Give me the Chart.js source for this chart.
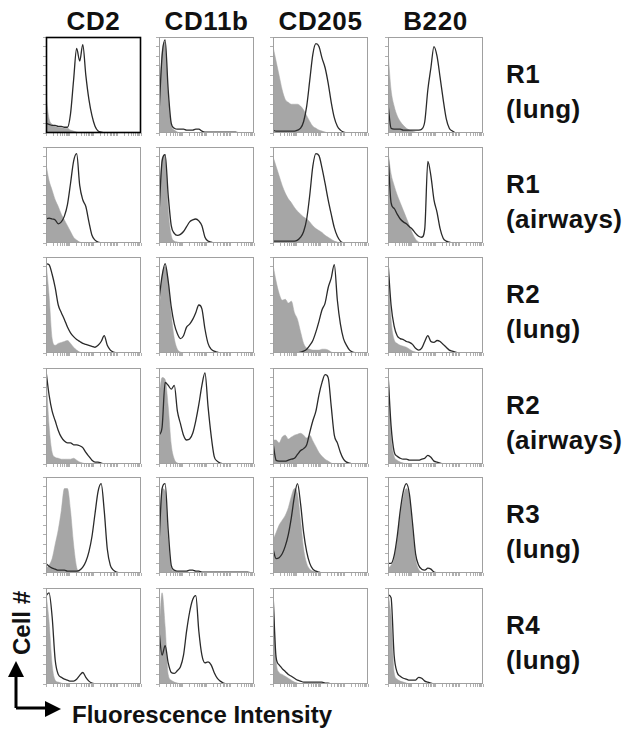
<!DOCTYPE html>
<html>
<head>
<meta charset="utf-8">
<script src="https://cdn.jsdelivr.net/npm/chart.js@4.4.1/dist/chart.umd.min.js"></script>
<style>
  body { margin: 0; background: #fff; width: 625px; height: 730px; position: relative; overflow: hidden;
         font-family: 'Liberation Sans', Arial, sans-serif; font-weight: bold; color: #111; }
  .hdr { position: absolute; top: 8px; width: 130px; text-align: center; font-size: 26px; line-height: 26px; letter-spacing: 0.6px; }
  .lbl { position: absolute; left: 506px; font-size: 26px; line-height: 35px; letter-spacing: 0.4px; white-space: nowrap; }
  .axis-x { position: absolute; left: 72px; top: 703px; font-size: 24px; line-height: 24px; white-space: nowrap; }
  .axis-y { position: absolute; left: -23px; top: 610px; width: 90px; height: 26px; line-height: 26px; font-size: 24px;
            text-align: center; transform: rotate(-90deg); white-space: nowrap; }
  canvas { position: absolute; }
  svg { position: absolute; left: 0; top: 0; }
</style>
</head>
<body>
<svg width="80" height="730">
  <path d="M16 708 V675 M16 708 H47" stroke="#000" stroke-width="3" fill="none"/>
  <polygon points="16,661 8,677 24,677" fill="#000"/>
  <polygon points="61,709 45,701 45,717" fill="#000"/>
</svg>
<div class="axis-y">Cell #</div>
<div class="axis-x">Fluorescence Intensity</div>
<script>
// fluorescence channels (4 log decades, 32 bins)
const channels = [0,1,2,3,4,5,6,7,8,9,10,11,12,13,14,15,16,17,18,19,20,21,22,23,24,25,26,27,28,29,30,31];
const markers = ['CD2', 'CD11b', 'CD205', 'B220'];
const regions = [['R1', '(lung)'], ['R1', '(airways)'], ['R2', '(lung)'], ['R2', '(airways)'], ['R3', '(lung)'], ['R4', '(lung)']];

// R1 lung
const cd2_r1lung_iso = [38,15,9,7,6,6,5,5,3,2,1,0];
const cd2_r1lung_stain = [10,9,8,8,7,7,6,6,20,55,88,75,92,60,35,18,7,2,1,0];
const cd11b_r1lung_iso = [30,85,95,40,8,3,1,0];
const cd11b_r1lung_stain = [20,80,97,45,10,5,4,4,4,3,3,3,4,4,2,1,1,1,1,1,1,1,1,1,1,1,0];
const cd205_r1lung_iso = [90,75,60,45,35,32,30,30,30,28,24,18,12,7,5,3,2,1,0];
const cd205_r1lung_stain = [3,2,2,2,2,2,2,2,3,5,12,28,55,82,93,90,78,68,52,32,16,7,3,1,0];
const b220_r1lung_iso = [85,45,28,18,12,8,5,3,2,1,0];
const b220_r1lung_stain = [30,5,4,4,4,3,3,3,3,3,3,4,12,45,68,90,80,58,35,15,5,2,0];

// R1 airways
const cd2_r1air_iso = [82,65,55,45,38,30,24,18,12,6,3,1,0];
const cd2_r1air_stain = [25,26,25,24,20,22,28,40,62,85,93,60,45,38,22,8,3,1,0];
const cd11b_r1air_iso = [40,88,92,35,8,2,1,0];
const cd11b_r1air_stain = [30,85,92,50,18,10,8,9,12,17,22,24,25,23,18,6,2,1,0];
const cd205_r1air_iso = [90,80,70,60,52,46,42,37,33,30,27,25,22,18,15,13,11,8,6,4,2,1,0];
const cd205_r1air_stain = [2,2,2,2,2,2,2,2,3,6,12,25,50,80,93,91,78,62,45,30,16,7,2,0];
const b220_r1air_iso = [95,72,60,50,42,34,26,18,10,4,1,0];
const b220_r1air_stain = [95,42,36,30,25,22,20,17,14,10,7,6,15,85,70,45,32,15,5,2,1,0];

// R2 lung
const cd2_r2lung_iso = [95,60,15,8,10,11,12,13,10,6,3,1,0];
const cd2_r2lung_stain = [93,92,82,68,50,42,35,27,21,17,14,12,10,9,8,7,6,8,12,18,8,3,1,0];
const cd11b_r2lung_iso = [40,80,90,75,40,15,4,1,0];
const cd11b_r2lung_stain = [55,80,93,75,48,30,20,15,18,27,30,35,42,50,46,25,10,4,2,1,0];
const cd205_r2lung_iso = [92,75,62,55,56,52,54,42,35,22,10,5,4,3,3,3,4,4,3,1,0];
const cd205_r2lung_stain = [0,0,0,0,0,0,0,0,0,1,2,4,8,13,22,33,45,52,68,78,92,55,30,15,8,3,1,0];
const b220_r2lung_iso = [95,35,14,10,8,7,6,4,2,1,0];
const b220_r2lung_stain = [95,50,28,18,15,14,12,11,9,5,3,5,12,18,12,11,13,12,9,6,3,2,1,0];

// R2 airways
const cd2_r2air_iso = [95,40,12,7,6,5,5,5,5,6,4,2,1,0];
const cd2_r2air_stain = [97,72,55,45,35,28,24,22,22,20,20,19,17,12,8,4,2,2,1,0];
const cd11b_r2air_iso = [70,90,88,60,20,5,1,0];
const cd11b_r2air_stain = [30,38,85,82,78,82,55,42,30,25,26,32,45,62,82,95,60,30,8,3,1,0];
const cd205_r2air_iso = [25,25,22,28,30,26,28,30,31,32,30,27,30,24,18,12,8,5,3,1,0];
const cd205_r2air_stain = [22,4,3,3,3,4,5,6,10,14,16,20,33,45,55,72,85,93,90,60,30,22,12,5,2,1,0];
const b220_r2air_iso = [95,30,8,4,2,1,0];
const b220_r2air_stain = [95,40,13,8,6,5,5,4,4,4,4,5,6,9,7,3,2,1,0];

// R3 lung
const cd2_r3lung_iso = [5,8,15,30,45,65,88,88,65,30,6,1,0];
const cd2_r3lung_stain = [10,7,5,4,3,3,3,2,2,2,2,3,6,12,22,38,62,85,93,65,25,8,3,1,0];
const cd11b_r3lung_iso = [40,88,85,35,5,2,1,0];
const cd11b_r3lung_stain = [30,88,93,45,8,3,2,2,2,2,3,3,2,2,1,1,1,1,1,1,1,1,1,1,1,1,1,1,1,1,0];
const cd205_r3lung_iso = [35,42,50,55,60,68,80,88,82,55,25,10,4,2,1,0];
const cd205_r3lung_stain = [25,15,16,20,28,40,58,80,93,72,42,22,10,4,2,1,0];
const b220_r3lung_iso = [5,8,15,35,60,80,88,78,45,15,4,1,0];
const b220_r3lung_stain = [10,10,18,38,65,85,93,82,52,20,8,4,3,5,4,1,0];

// R4 lung
const cd2_r4lung_iso = [95,65,20,4,2,1,0];
const cd2_r4lung_stain = [92,95,70,25,10,7,5,4,3,3,5,9,12,7,3,1,0];
const cd11b_r4lung_iso = [50,95,60,10,4,2,1,0];
const cd11b_r4lung_stain = [55,30,40,22,12,11,14,18,30,55,75,88,92,55,30,22,23,20,12,6,3,1,0];
const cd205_r4lung_iso = [95,25,12,10,8,6,4,2,1,0];
const cd205_r4lung_stain = [95,28,20,16,13,10,8,6,4,3,2,2,2,2,2,2,2,1,1,0];
const b220_r4lung_iso = [95,70,12,5,3,2,1,0];
const b220_r4lung_stain = [93,90,30,12,8,6,5,4,4,4,7,6,3,2,1,0];

const isoRows = [
  [cd2_r1lung_iso, cd11b_r1lung_iso, cd205_r1lung_iso, b220_r1lung_iso],
  [cd2_r1air_iso, cd11b_r1air_iso, cd205_r1air_iso, b220_r1air_iso],
  [cd2_r2lung_iso, cd11b_r2lung_iso, cd205_r2lung_iso, b220_r2lung_iso],
  [cd2_r2air_iso, cd11b_r2air_iso, cd205_r2air_iso, b220_r2air_iso],
  [cd2_r3lung_iso, cd11b_r3lung_iso, cd205_r3lung_iso, b220_r3lung_iso],
  [cd2_r4lung_iso, cd11b_r4lung_iso, cd205_r4lung_iso, b220_r4lung_iso]
];
const stainRows = [
  [cd2_r1lung_stain, cd11b_r1lung_stain, cd205_r1lung_stain, b220_r1lung_stain],
  [cd2_r1air_stain, cd11b_r1air_stain, cd205_r1air_stain, b220_r1air_stain],
  [cd2_r2lung_stain, cd11b_r2lung_stain, cd205_r2lung_stain, b220_r2lung_stain],
  [cd2_r2air_stain, cd11b_r2air_stain, cd205_r2air_stain, b220_r2air_stain],
  [cd2_r3lung_stain, cd11b_r3lung_stain, cd205_r3lung_stain, b220_r3lung_stain],
  [cd2_r4lung_stain, cd11b_r4lung_stain, cd205_r4lung_stain, b220_r4lung_stain]
];

// panel layout
const colLeft = [46, 159, 273, 388];
const rowTop = [37, 147, 257, 368, 477, 588];
const panelW = 95, panelH = 96, tickLen = 3;

// box around each plot area
const framePlugin = {
  id: 'frame',
  afterDatasetsDraw(chart, args, opts) {
    const a = chart.chartArea, ctx = chart.ctx;
    ctx.save();
    ctx.strokeStyle = opts.color;
    ctx.lineWidth = opts.width;
    ctx.strokeRect(a.left + 0.5, a.top + 0.5, a.right - a.left - 1, a.bottom - a.top - 1);
    ctx.restore();
  }
};

// log-decade minor ticks along the fluorescence axis
function logTicks(scale) {
  const ticks = [];
  const perDecade = 31 / 4;
  for (let d = 0; d < 4; d++) {
    for (let k = 1; k < 10; k++) ticks.push({ value: perDecade * (d + Math.log10(k)) });
  }
  ticks.push({ value: 31 });
  scale.ticks = ticks;
}

document.addEventListener('DOMContentLoaded', function() {
  markers.forEach((m, c) => {
    const d = document.createElement('div');
    d.className = 'hdr';
    d.style.left = (colLeft[c] + panelW / 2 - 65) + 'px';
    d.textContent = m;
    document.body.appendChild(d);
  });

  regions.forEach((r, i) => {
    const d = document.createElement('div');
    d.className = 'lbl';
    d.style.top = (rowTop[i] + 20) + 'px';
    d.innerHTML = r[0] + '<br>' + r[1];
    document.body.appendChild(d);
  });

  for (let r = 0; r < rowTop.length; r++) {
    for (let c = 0; c < colLeft.length; c++) {
      const canvas = document.createElement('canvas');
      canvas.width = panelW + tickLen + 2;
      canvas.height = panelH + tickLen + 2;
      canvas.style.left = (colLeft[c] - tickLen - 1) + 'px';
      canvas.style.top = (rowTop[r] - 1) + 'px';
      document.body.appendChild(canvas);
      const highlighted = (r === 0 && c === 0);

      new Chart(canvas.getContext('2d'), {
        type: 'line',
        data: {
          labels: channels,
          datasets: [{
            label: 'Isotype',
            data: isoRows[r][c],
            backgroundColor: '#a6a6a6',
            borderColor: '#a6a6a6',
            borderWidth: 0.5,
            fill: 'origin',
            pointRadius: 0,
            cubicInterpolationMode: 'monotone',
            order: 2
          }, {
            label: markers[c],
            data: stainRows[r][c],
            borderColor: '#2a2a2a',
            borderWidth: 1.3,
            fill: false,
            pointRadius: 0,
            cubicInterpolationMode: 'monotone',
            order: 1
          }]
        },
        options: {
          responsive: false,
          animation: false,
          events: [],
          layout: { padding: { left: 1, top: 1, right: 1, bottom: 1 } },
          plugins: {
            legend: { display: false },
            tooltip: { enabled: false },
            frame: { color: highlighted ? '#000' : '#a0a0a0', width: highlighted ? 1.6 : 1 }
          },
          scales: {
            x: {
              type: 'linear', min: 0, max: 31,
              afterBuildTicks: logTicks,
              ticks: { display: false },
              border: { display: false },
              grid: { drawOnChartArea: false, drawTicks: true, tickLength: tickLen, color: '#b0b0b0' }
            },
            y: {
              min: 0, max: 100,
              ticks: { display: false, stepSize: 10 },
              border: { display: false },
              grid: { drawOnChartArea: false, drawTicks: true, tickLength: tickLen, color: '#b0b0b0' }
            }
          }
        },
        plugins: [framePlugin]
      });
    }
  }
});
</script>
</body>
</html>
